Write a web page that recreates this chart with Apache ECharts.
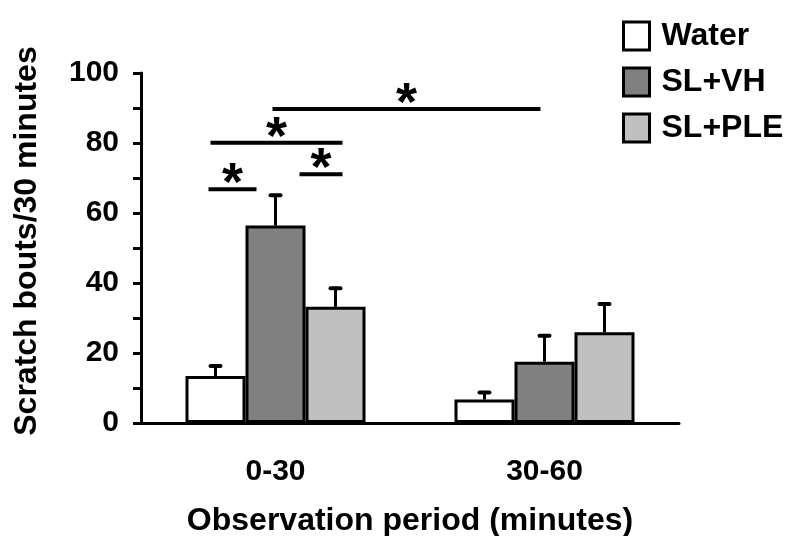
<!DOCTYPE html>
<html>
<head>
<meta charset="utf-8">
<script src="https://cdn.jsdelivr.net/npm/echarts@6/dist/echarts.min.js"></script>
<style>
  html, body { margin: 0; padding: 0; background: #fff; }
  #chart { width: 786px; height: 536px; }
</style>
</head>
<body>
<div id="chart"></div>
<script>
const periods = ['0-30', '30-60']
const groups = ['Water', 'SL+VH', 'SL+PLE']
const groupColors = ['#ffffff', '#808080', '#c0c0c0']
const means = [
  [13.4, 6.7],   // Water
  [56.4, 17.5],  // SL+VH
  [33.2, 25.9]   // SL+PLE
]
const errTops = [
  [16.3, 8.7],
  [65.1, 24.9],
  [38.5, 34.0]
]
const yTicks = [0, 20, 40, 60, 80, 100]
// significance brackets: value level, x offsets (px) from the 0-30 group centre
const sigLevels = [66.8, 80.1, 71.1, 89.7]
const sigFrom = [-67, -65, 24, -3]
const sigTo = [-19, 67, 67, 265]

const FONT = 'Arial, "Liberation Sans", sans-serif'
const BAR_W = 60

let myChart = echarts.init(document.getElementById('chart'))

let series = groups.map((g, i) => ({
  name: g,
  type: 'bar',
  barWidth: BAR_W,
  barGap: '0%',
  data: means[i],
  itemStyle: { color: groupColors[i], borderColor: '#000', borderWidth: 3 },
  z: 2
}))

groups.forEach((g, i) => {
  series.push({
    type: 'custom',
    name: g + ' err',
    z: 3,
    data: periods.map((p, j) => [j, means[i][j], errTops[i][j]]),
    renderItem: function (params, api) {
      let base = api.coord([api.value(0), api.value(1)])
      let top = api.coord([api.value(0), api.value(2)])
      let x = base[0] + (i - 1) * BAR_W
      return {
        type: 'group',
        children: [
          { type: 'line', shape: { x1: x, y1: base[1], x2: x, y2: top[1] }, style: { stroke: '#000', lineWidth: 3 } },
          { type: 'line', shape: { x1: x - 5, y1: top[1], x2: x + 5, y2: top[1] }, style: { stroke: '#000', lineWidth: 4, lineCap: 'round' } }
        ]
      }
    }
  })
})

myChart.setOption({
  animation: false,
  textStyle: { fontFamily: FONT },
  grid: { left: 141, right: 107, top: 73, bottom: 113, outerBoundsMode: 'none', containLabel: false },
  legend: {
    orient: 'vertical',
    left: 617,
    top: 15,
    icon: 'rect',
    itemWidth: 26,
    itemHeight: 28,
    itemGap: 14,
    data: groups,
    itemStyle: { borderColor: '#000', borderWidth: 3 },
    textStyle: { fontSize: 32, lineHeight: 30, fontWeight: 'bold', color: '#000', fontFamily: FONT, padding: [0, 0, 0, 7] }
  },
  xAxis: {
    type: 'category',
    data: periods,
    name: 'Observation period (minutes)',
    nameLocation: 'middle',
    nameGap: 82,
    nameTextStyle: { fontSize: 32, fontWeight: 'bold', color: '#000', fontFamily: FONT },
    axisLine: { lineStyle: { color: '#000', width: 3 } },
    axisTick: { show: false },
    axisLabel: { fontSize: 30, fontWeight: 'bold', color: '#000', margin: 34, fontFamily: FONT }
  },
  yAxis: {
    type: 'value',
    min: yTicks[0],
    max: yTicks[yTicks.length - 1],
    interval: 20,
    name: 'Scratch bouts/30 minutes',
    nameLocation: 'middle',
    nameGap: 98,
    nameTextStyle: { fontSize: 32, fontWeight: 'bold', color: '#000', fontFamily: FONT, padding: [0, 0, 0, 14] },
    axisLine: { show: true, lineStyle: { color: '#000', width: 3 } },
    axisTick: { show: true, length: 8, lineStyle: { color: '#000', width: 3 } },
    minorTick: { show: true, splitNumber: 2, length: 8, lineStyle: { color: '#000', width: 3 } },
    splitLine: { show: false },
    axisLabel: { fontSize: 30, fontWeight: 'bold', color: '#000', margin: 22, fontFamily: FONT }
  },
  series: series
})

// significance lines and stars
let cx = myChart.convertToPixel({ xAxisIndex: 0 }, periods[0])
let sigGraphics = []
sigLevels.forEach((v, k) => {
  let y = myChart.convertToPixel({ yAxisIndex: 0 }, v)
  let x1 = cx + sigFrom[k]
  let x2 = cx + sigTo[k]
  sigGraphics.push({
    type: 'line',
    shape: { x1: x1, y1: y, x2: x2, y2: y },
    style: { stroke: '#000', lineWidth: 4 }
  })
  sigGraphics.push({
    type: 'text',
    x: (x1 + x2) / 2,
    y: y - 4,
    style: { text: '*', font: 'bold 54px ' + FONT, fill: '#000', align: 'center', verticalAlign: 'middle' }
  })
})
myChart.setOption({ graphic: sigGraphics })
</script>
</body>
</html>
